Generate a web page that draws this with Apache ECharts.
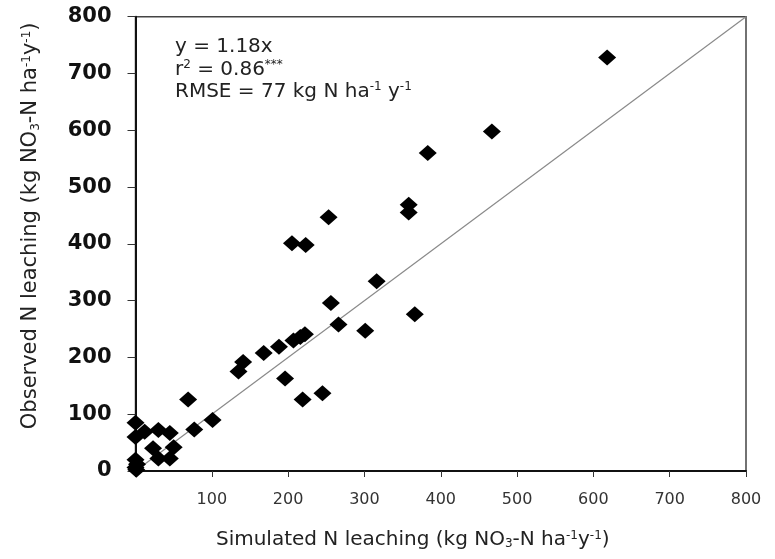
<!DOCTYPE html>
<html>
<head>
<meta charset="utf-8">
<script src="https://cdn.jsdelivr.net/npm/echarts@6/dist/echarts.min.js"></script>
<style>
  html, body { margin: 0; padding: 0; background: #fff; }
  #chart { width: 775px; height: 559px; }
</style>
</head>
<body>
<div id="chart"></div>
<script>
// simulated (x) vs observed (y) N leaching, kg NO3-N / ha / y
const simulated = [
  0, 0, 12, 30, 45, 23, 30, 45, 50,
  0, 2, 0, 1,
  69, 77, 101, 135, 141, 168, 188, 196,
  207, 216, 222, 219, 245, 253, 205, 223,
  358, 358, 316, 256, 266, 301, 366, 467, 383, 618
];
const observed = [
  85, 60, 69, 72, 67, 40, 22, 22, 42,
  20, 12, 6, 2,
  126, 73, 90, 175, 192, 208, 219, 163,
  230, 236, 241, 126, 137, 447, 401, 398,
  469, 455, 334, 296, 258, 247, 276, 598, 560, 728
];
const oneToOne = [[0, 0], [800, 800]];
const xTicks = [0, 100, 200, 300, 400, 500, 600, 700, 800];
const yTicks = [0, 100, 200, 300, 400, 500, 600, 700, 800];

const points = simulated.map((x, i) => [x, observed[i]]);
const font = "DejaVu Sans";
const supStyle = { fontSize: 12, verticalAlign: "top", fontFamily: font, color: "#222" };
const subStyle = { fontSize: 12, verticalAlign: "bottom", fontFamily: font, color: "#222" };

const chart = echarts.init(document.getElementById("chart"));
chart.setOption({
  animation: false,
  backgroundColor: "#fff",
  title: {
    left: 175,
    top: 36,
    padding: 0,
    text: "y = 1.18x\nr{sup|2} = 0.86{sup|***}\nRMSE = 77 kg N ha{sup|-1} y{sup|-1}",
    textStyle: {
      fontFamily: font,
      fontSize: 20,
      fontWeight: "normal",
      color: "#222",
      lineHeight: 22.5,
      rich: { sup: supStyle }
    }
  },
  grid: {
    left: 135.5,
    right: 29,
    top: 16.7,
    bottom: 88,
    show: true,
    borderColor: "#444",
    borderWidth: 1.5
  },
  xAxis: {
    type: "value",
    min: xTicks[0],
    max: xTicks[xTicks.length - 1],
    interval: 100,
    splitLine: { show: false },
    axisLine: { lineStyle: { color: "#111", width: 2 } },
    axisTick: { inside: false, length: 6, lineStyle: { color: "#333", width: 1 } },
    axisLabel: {
      margin: 21,
      fontFamily: font,
      fontSize: 16,
      color: "#333",
      formatter: v => (v === 0 ? "" : String(v))
    },
    name: "Simulated N leaching (kg NO{sub|3}-N ha{sup|-1}y{sup|-1})",
    nameLocation: "middle",
    nameGap: 59,
    nameTextStyle: {
      fontFamily: font,
      fontSize: 20,
      color: "#222",
      padding: [0, 56, 0, 0],
      rich: { sup: supStyle, sub: subStyle }
    }
  },
  yAxis: {
    type: "value",
    min: yTicks[0],
    max: yTicks[yTicks.length - 1],
    interval: 100,
    splitLine: { show: false },
    axisLine: { lineStyle: { color: "#111", width: 2 } },
    axisTick: { inside: false, length: 8, lineStyle: { color: "#333", width: 1 } },
    axisLabel: {
      margin: 24,
      fontFamily: font,
      fontSize: 21,
      fontWeight: "bold",
      color: "#111"
    },
    name: "Observed N leaching (kg NO{sub|3}-N ha{sup|-1}y{sup|-1})",
    nameLocation: "middle",
    nameRotate: 90,
    nameGap: 94,
    nameTextStyle: {
      fontFamily: font,
      fontSize: 21,
      color: "#222",
      padding: [0, 0, 0, 36],
      rich: { sup: supStyle, sub: subStyle }
    }
  },
  series: [
    {
      type: "line",
      data: oneToOne,
      symbol: "none",
      silent: true,
      lineStyle: { color: "#8a8a8a", width: 1.2 },
      z: 1
    },
    {
      type: "scatter",
      data: points,
      symbol: "diamond",
      symbolSize: [18, 16],
      itemStyle: { color: "#000", opacity: 1 },
      z: 2
    }
  ]
});
</script>
</body>
</html>
